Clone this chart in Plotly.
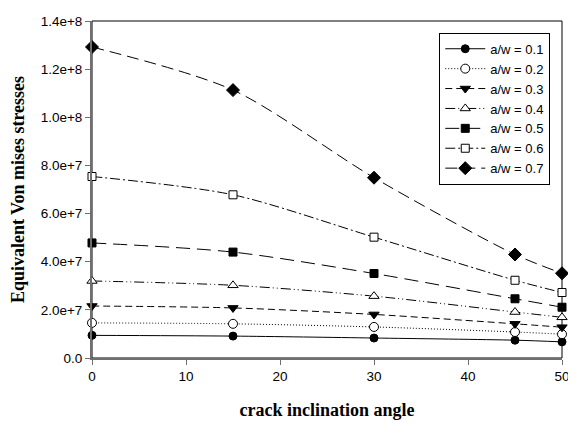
import plotly.graph_objects as go

angles = [0, 15, 30, 45, 50]
aw01 = [9.4e6, 9.1e6, 8.3e6, 7.4e6, 6.7e6]
aw02 = [14.6e6, 14.2e6, 12.9e6, 10.8e6, 9.9e6]
aw03 = [21.6e6, 20.8e6, 18.1e6, 14.2e6, 12.8e6]
aw04 = [32.0e6, 30.2e6, 25.7e6, 19.1e6, 16.9e6]
aw05 = [47.8e6, 44.0e6, 35.1e6, 24.6e6, 21.1e6]
aw06 = [75.4e6, 67.8e6, 50.2e6, 32.3e6, 27.2e6]
aw07 = [129.2e6, 111.3e6, 74.9e6, 43.0e6, 35.2e6]

series_names = ["a/w = 0.1", "a/w = 0.2", "a/w = 0.3", "a/w = 0.4",
                "a/w = 0.5", "a/w = 0.6", "a/w = 0.7"]
series_values = [aw01, aw02, aw03, aw04, aw05, aw06, aw07]

y_tickvals = [0, 2e7, 4e7, 6e7, 8e7, 1e8, 1.2e8, 1.4e8]
y_ticktext = ["0.0", "2.0e+7", "4.0e+7", "6.0e+7", "8.0e+7", "1.0e+8", "1.2e+8", "1.4e+8"]
x_tickvals = [0, 10, 20, 30, 40, 50]

styles = [
    dict(dash="solid", symbol="circle", size=8),
    dict(dash="1px,2px", symbol="circle-open", size=9),
    dict(dash="7px,4px", symbol="triangle-down", size=9),
    dict(dash="10px,3px,1px,3px,1px,3px", symbol="triangle-up-open", size=9),
    dict(dash="14px,7px", symbol="square", size=8),
    dict(dash="10px,3px,2px,3px", symbol="square-open", size=8),
    dict(dash="12px,6px", symbol="diamond", size=10),
]

fig = go.Figure()
for name, vals, st in zip(series_names, series_values, styles):
    open_marker = st["symbol"].endswith("-open")
    fig.add_trace(go.Scatter(
        x=angles, y=vals, name=name, mode="lines+markers",
        line=dict(color="black", width=1, dash=st["dash"], shape="spline", smoothing=0.8),
        marker=dict(symbol=st["symbol"].replace("-open", ""), size=st["size"],
                    color="white" if open_marker else "black",
                    line=dict(color="black", width=1)),
        cliponaxis=False,
    ))

axis_color = "#6f6f6f"
# page body has an 8px margin: size/margins compensate for it
fig.update_layout(
    width=568, height=415,
    margin=dict(l=84, r=8, t=6, b=54),
    paper_bgcolor="white", plot_bgcolor="white",
    font=dict(family="Liberation Sans, Arial, sans-serif", size=13, color="black"),
    showlegend=True,
    legend=dict(
        x=0.975, y=0.965, xanchor="right", yanchor="top",
        bordercolor="black", borderwidth=1, bgcolor="white",
        font=dict(family="Liberation Sans, Arial, sans-serif", size=13, color="black"),
        itemwidth=40, tracegroupgap=0,
    ),
    xaxis=dict(
        range=[0, 50], tickvals=x_tickvals, showgrid=False, zeroline=False,
        showline=True, linecolor=axis_color, linewidth=2,
        ticks="outside", ticklen=5, tickwidth=1, tickcolor=axis_color,
        tickfont=dict(size=13.5), ticklabeloverflow="allow",
        title=dict(text="<b>crack inclination angle</b>", standoff=20,
                   font=dict(family="Liberation Serif, Times New Roman, serif", size=18)),
    ),
    yaxis=dict(
        range=[0, 1.4e8], tickvals=y_tickvals, ticktext=y_ticktext,
        showgrid=False, zeroline=False,
        showline=True, linecolor=axis_color, linewidth=2,
        ticks="outside", ticklen=5, tickwidth=1, tickcolor=axis_color,
        tickfont=dict(size=13.5), ticklabeloverflow="allow",
        title=dict(text="<b>Equivalent Von mises stresses</b>", standoff=14,
                   font=dict(family="Liberation Serif, Times New Roman, serif", size=18)),
    ),
    shapes=[dict(type="rect", xref="paper", yref="paper", x0=0, y0=0, x1=1, y1=1,
                 line=dict(color="black", width=1), layer="below")],
)

fig.write_html("out.html")
